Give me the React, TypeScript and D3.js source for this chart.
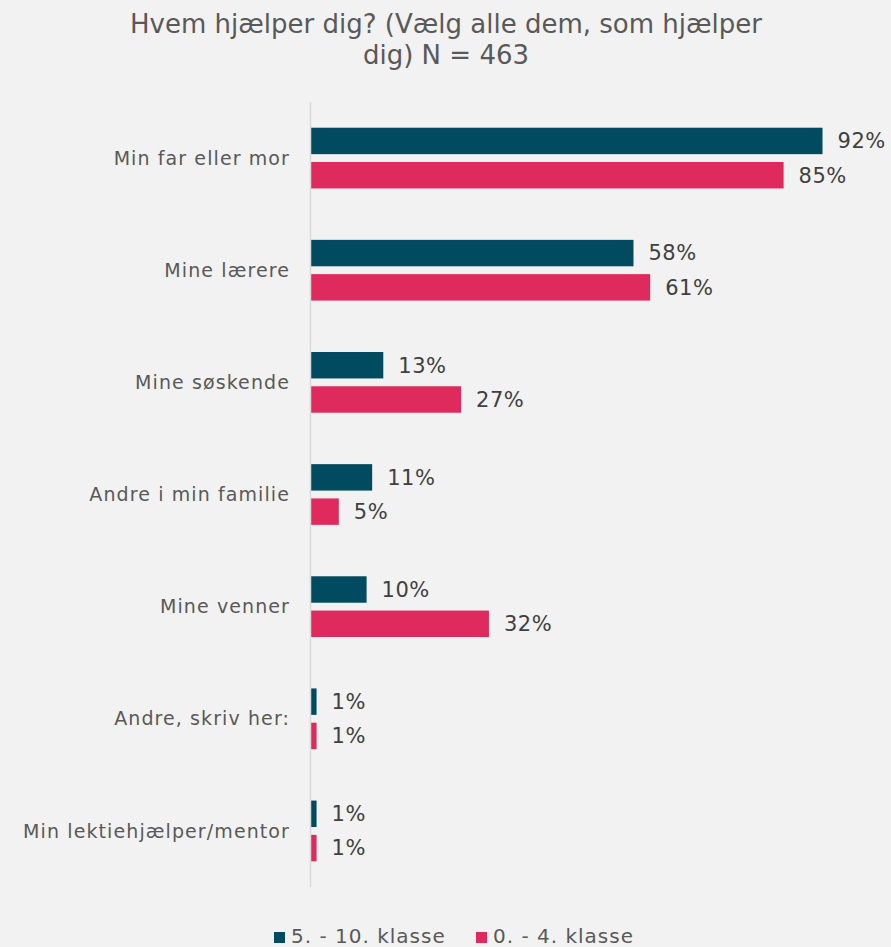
import React from "react";
import * as d3 from "d3";

const categories = [
  "Min far eller mor",
  "Mine lærere",
  "Mine søskende",
  "Andre i min familie",
  "Mine venner",
  "Andre, skriv her:",
  "Min lektiehjælper/mentor",
];
const seriesNames = ["5. - 10. klasse", "0. - 4. klasse"];
const olderValues = [92, 58, 13, 11, 10, 1, 1];
const youngerValues = [85, 61, 27, 5, 32, 1, 1];
const colors = ["#004B5F", "#DE2A5C"];
const titleLines = ["Hvem hjælper dig? (Vælg alle dem, som hjælper", "dig) N = 463"];

const W = 891;
const H = 947;

export default function App() {
  const x = d3.scaleLinear().domain([0, 100]).range([311, 867]);
  const y0 = d3.scaleBand<string>().domain(categories).range([102, 887]).paddingInner(0).paddingOuter(0);
  const y1 = d3
    .scaleBand<string>()
    .domain(seriesNames)
    .range([0, y0.bandwidth()])
    .paddingInner(0.2286)
    .paddingOuter(0.75);
  const seriesVals = [olderValues, youngerValues];
  const font = "'DejaVu Sans', Verdana, sans-serif";

  return (
    <>
      <style>{`body{margin:0;background:#F2F2F2}`}</style>
      <svg width={W} height={H} style={{ display: "block", fontFamily: font }}>
        <rect x={0} y={0} width={W} height={H} fill="#F2F2F2" />
        {titleLines.map((t, i) => (
          <text key={i} x={446} y={33 + i * 31} textAnchor="middle" fontSize={26} fill="#595959">
            {t}
          </text>
        ))}
        {categories.map((c, ci) => (
          <g key={c} transform={`translate(0,${y0(c)})`}>
            <text
              x={290}
              y={y0.bandwidth() / 2}
              dy="0.35em"
              textAnchor="end"
              fontSize={19}
              letterSpacing={1.1}
              fill="#595959"
            >
              {c}
            </text>
            {seriesNames.map((s, si) => {
              const v = seriesVals[si][ci];
              const yy = y1(s) as number;
              return (
                <g key={s}>
                  <rect x={x(0)} y={yy} width={x(v) - x(0)} height={y1.bandwidth()} fill={colors[si]} />
                  <text
                    x={x(v) + 15}
                    y={yy + y1.bandwidth() / 2}
                    dy="0.35em"
                    fontSize={21}
                    letterSpacing={0.5}
                    fill="#404040"
                  >
                    {v}%
                  </text>
                </g>
              );
            })}
          </g>
        ))}
        <line x1={310.5} x2={310.5} y1={102} y2={887} stroke="#D9D9D9" strokeWidth={1.5} />
        {seriesNames.map((s, si) => {
          const lx = si === 0 ? 274 : 476;
          return (
            <g key={s}>
              <rect x={lx} y={932} width={11} height={11} fill={colors[si]} />
              <text x={lx + 17} y={943} fontSize={20} letterSpacing={1} fill="#595959">
                {s}
              </text>
            </g>
          );
        })}
      </svg>
    </>
  );
}
